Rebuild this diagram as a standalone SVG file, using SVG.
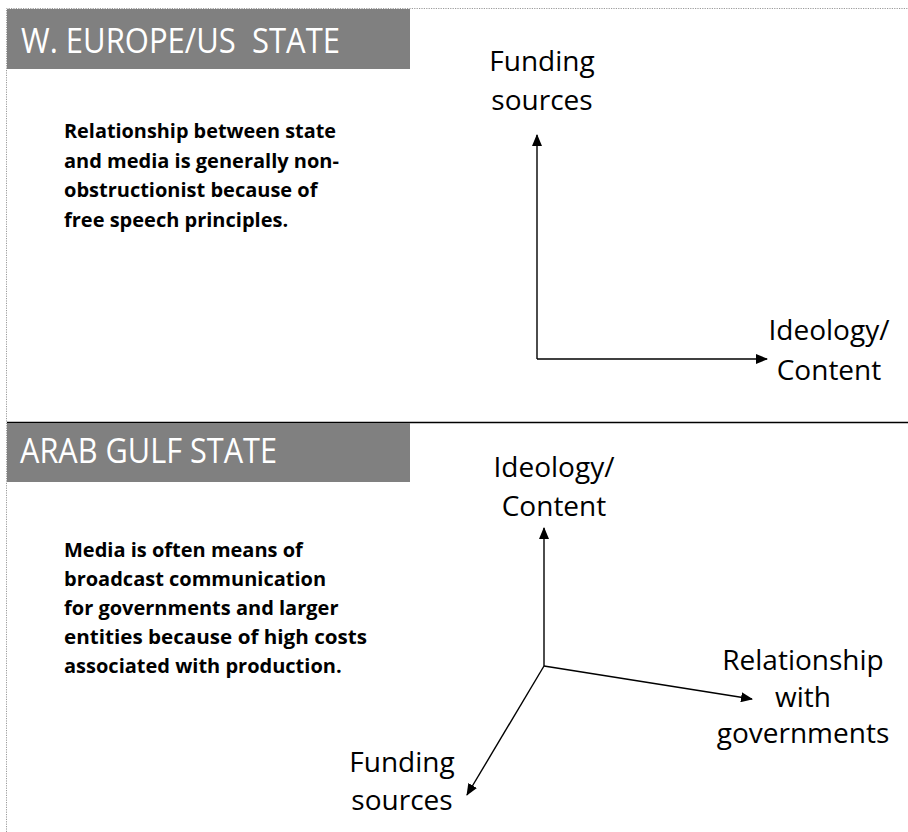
<svg xmlns="http://www.w3.org/2000/svg" width="908" height="832" viewBox="0 0 908 832">
  <style>
    .frame { fill: none; stroke: #9a9a9a; stroke-width: 1; stroke-dasharray: 1.2 1.2; }
    .banner { fill: #808080; }
    .banner-text { font-family: "Open Sans", "Liberation Sans", sans-serif; font-size: 35px; fill: #ffffff; white-space: pre; }
    .body { font-family: "Open Sans", "Liberation Sans", sans-serif; font-size: 20px; font-weight: bold; fill: #000000; }
    .label { font-family: "Open Sans", "Liberation Sans", sans-serif; font-size: 28px; fill: #000000; text-anchor: middle; }
    .axis { stroke: #000000; stroke-width: 1.4; fill: none; marker-end: url(#arrow); }
    .divider { stroke: #000000; stroke-width: 1.6; }
  </style>
  <defs>
    <marker id="arrow" markerUnits="userSpaceOnUse" markerWidth="12" markerHeight="10" viewBox="0 0 12 10" refX="11" refY="5" orient="auto">
      <path d="M0,0 L12,5 L0,10 Z" fill="#000000"/>
    </marker>
  </defs>

  <rect width="908" height="832" fill="#ffffff"/>

  <!-- dotted page frame -->
  <path class="frame" d="M6.5,832 V8.5 H908"/>

  <!-- section divider -->
  <line class="divider" x1="7" y1="422.5" x2="908" y2="422.5"/>

  <!-- Western section -->
  <g id="west-banner">
    <rect class="banner" x="7" y="9" width="403" height="60"/>
    <text class="banner-text" x="21" y="53" textLength="319" lengthAdjust="spacingAndGlyphs">W. EUROPE/US  STATE</text>
  </g>
  <g id="west-description">
    <text class="body" x="64" y="138" textLength="272" lengthAdjust="spacingAndGlyphs">Relationship between state</text>
    <text class="body" x="64" y="168">and media is generally non-</text>
    <text class="body" x="64" y="197">obstructionist because of</text>
    <text class="body" x="64" y="227">free speech principles.</text>
  </g>
  <g id="west-funding">
    <text class="label" x="542" y="71">Funding</text>
    <text class="label" x="542" y="110">sources</text>
  </g>
  <g id="west-ideology">
    <text class="label" x="829" y="340">Ideology/</text>
    <text class="label" x="829" y="380">Content</text>
  </g>

  <!-- Gulf section -->
  <g id="gulf-banner">
    <rect class="banner" x="7" y="423" width="403" height="59"/>
    <text class="banner-text" x="20" y="463" textLength="257" lengthAdjust="spacingAndGlyphs">ARAB GULF STATE</text>
  </g>
  <g id="gulf-description">
    <text class="body" x="64" y="557">Media is often means of</text>
    <text class="body" x="64" y="586">broadcast communication</text>
    <text class="body" x="64" y="615">for governments and larger</text>
    <text class="body" x="64" y="644" textLength="303" lengthAdjust="spacingAndGlyphs">entities because of high costs</text>
    <text class="body" x="64" y="673">associated with production.</text>
  </g>
  <g id="gulf-ideology">
    <text class="label" x="554" y="477">Ideology/</text>
    <text class="label" x="554" y="516">Content</text>
  </g>
  <g id="gulf-relationship">
    <text class="label" x="803" y="670">Relationship</text>
    <text class="label" x="803" y="707">with</text>
    <text class="label" x="803" y="743">governments</text>
  </g>
  <g id="gulf-funding">
    <text class="label" x="402" y="772">Funding</text>
    <text class="label" x="402" y="810">sources</text>
  </g>

  <!-- axes -->
  <g id="connectors">
    <path class="axis" d="M537,359 V135"/>
    <path class="axis" d="M537,359 H767"/>
    <path class="axis" d="M544,666 V528"/>
    <path class="axis" d="M544,666 L752,699"/>
    <path class="axis" d="M544,666 L467,795"/>
  </g>
</svg>
